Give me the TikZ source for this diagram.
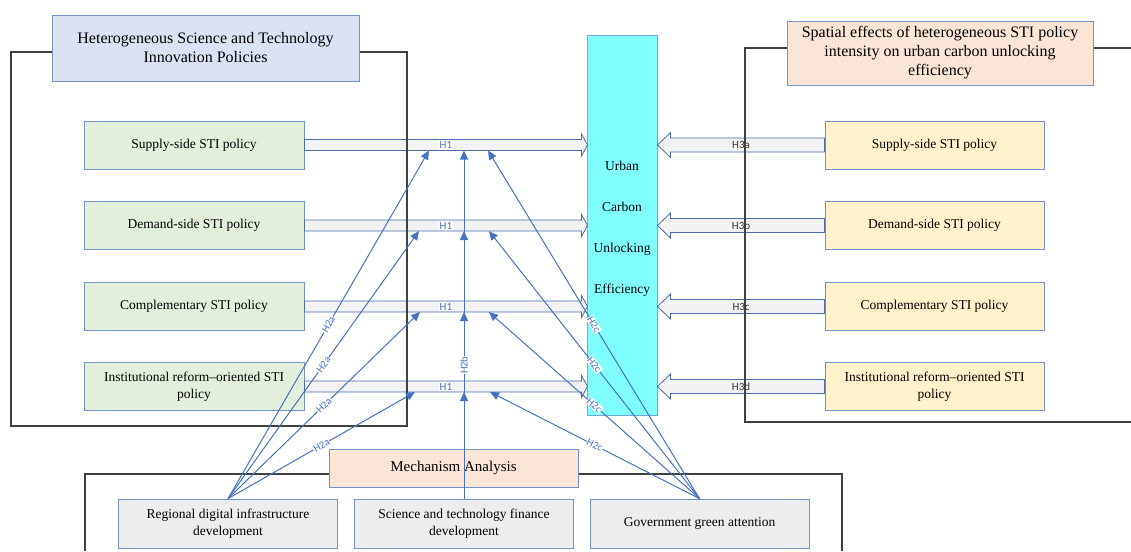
\documentclass[tikz,border=0pt]{standalone}
\usepackage{fontspec}
\setmainfont{Liberation Serif}
\newfontfamily\labfont{Carlito}
\usetikzlibrary{calc,arrows.meta}
\definecolor{framec}{HTML}{404040}
\definecolor{boxb}{HTML}{7393C8}
\definecolor{ltblue}{HTML}{DAE3F3}
\definecolor{ltgreen}{HTML}{E2EFDA}
\definecolor{ltpeach}{HTML}{FBE5D6}
\definecolor{ltyellow}{HTML}{FFF2CC}
\definecolor{ltgray}{HTML}{EDEDED}
\definecolor{cyanf}{HTML}{80FFFF}
\definecolor{cyanb}{HTML}{6FA8DC}
\definecolor{arrowb}{HTML}{4A6CA8}
\definecolor{arrowf}{HTML}{F2F2F2}
\definecolor{hblue}{HTML}{4472C4}
\definecolor{labdark}{HTML}{333333}
\newcommand\GArrow[4]{%
  \draw[barrow] ($(#1)+(0,-5.5)$) -- ($(#2)+(-6,-5.5)$) -- ($(#2)+(-6,-11)$) -- (#2)
    -- ($(#2)+(-6,11)$) -- ($(#2)+(-6,5.5)$) -- ($(#1)+(0,5.5)$) -- cycle;
  \node[hlab] (#4) at ($(#1)!0.5!(#2)$) {#3};}
\newcommand\YArrow[4]{%
  \draw[barrow] ($(#1)+(0,-7)$) -- ($(#2)+(13,-7)$) -- ($(#2)+(13,-12.5)$) -- (#2)
    -- ($(#2)+(13,12.5)$) -- ($(#2)+(13,7)$) -- ($(#1)+(0,7)$) -- cycle;
  \node[h3lab] (#4) at ($(#1)!0.5!(#2)$) {#3};}
\begin{document}
\begin{tikzpicture}[x=1pt,y=-1pt,
  box/.style={draw=boxb, line width=0.8pt, inner sep=0pt, align=center,
    font=\fontsize{13.5}{17}\selectfont},
  gbox/.style={box, fill=ltgreen, minimum width=220pt, minimum height=48pt},
  ybox/.style={box, fill=ltyellow, minimum width=219pt, minimum height=48pt},
  bbox/.style={box, fill=ltgray, minimum width=219pt, minimum height=49pt},
  frameline/.style={draw=framec, line width=1.2pt},
  barrow/.style={draw=arrowb, fill=arrowf, line width=0.8pt, line join=miter},
  hlab/.style={fill=white, inner sep=1pt, text=hblue, font=\labfont\fontsize{11}{12}\selectfont},
  h3lab/.style={inner sep=1pt, text=labdark, font=\labfont\fontsize{11}{12}\selectfont},
  hline/.style={draw=hblue, line width=1pt, -{Triangle[length=9pt,width=8pt]}},
  h2lab/.style={fill=white, inner sep=0.6pt, text=hblue, sloped, pos=0.5,
    font=\labfont\fontsize{10.5}{11}\selectfont},
  ctext/.style={anchor=base, inner sep=0pt, font=\fontsize{13.5}{16}\selectfont}
]
\useasboundingbox (0,0) rectangle (1131,551);

% central box
\node[draw=cyanb, fill=cyanf, line width=1pt, minimum width=70pt, minimum height=379pt, inner sep=0pt] (U) at (622,225.5) {};
\node[ctext] (u1) at (622,170) {Urban};
\node[ctext] (u2) at (622,211) {Carbon};
\node[ctext] (u3) at (622,252) {Unlocking};
\node[ctext] (u4) at (622,293) {Efficiency};

% left policy boxes
\node[gbox] (g1) at (194,145) {Supply-side STI policy};
\node[gbox] (g2) at (194,225.5) {Demand-side STI policy};
\node[gbox] (g3) at (194,306.5) {Complementary STI policy};
\node[gbox] (g4) at (194,386.5) {Institutional reform--oriented STI\\policy};

% right policy boxes
\node[ybox] (y1) at (934.5,145) {Supply-side STI policy};
\node[ybox] (y2) at (934.5,225.5) {Demand-side STI policy};
\node[ybox] (y3) at (934.5,306.5) {Complementary STI policy};
\node[ybox] (y4) at (934.5,386.5) {Institutional reform--oriented STI\\policy};

% block arrows
\foreach \i in {1,2,3,4}{
  \path ($(U.west|-g\i.east)+(1,0)$) coordinate (t\i);
  \path (U.east|-y\i.west) coordinate (s\i);
}
\GArrow{g1.east}{t1}{H1}{h1a}
\GArrow{g2.east}{t2}{H1}{h1b}
\GArrow{g3.east}{t3}{H1}{h1c}
\GArrow{g4.east}{t4}{H1}{h1d}
\YArrow{y1.west}{s1}{H3a}{h3a}
\YArrow{y2.west}{s2}{H3b}{h3b}
\YArrow{y3.west}{s3}{H3c}{h3c}
\YArrow{y4.west}{s4}{H3d}{h3d}

% frames
\draw[frameline] (52,52) -- (11,52) -- (11,426) -- (407,426) -- (407,52) -- (359,52);
\draw[frameline] (787,48) -- (745,48) -- (745,422) -- (1131,422);
\draw[frameline] (1093,48) -- (1131,48);
\draw[frameline] (329,474) -- (85,474) -- (85,551);
\draw[frameline] (578,474) -- (842,474) -- (842,551);

% titles
\node[box, fill=ltblue, minimum width=307pt, minimum height=66pt, font=\fontsize{16}{19}\selectfont] (T1) at (205.5,48) {Heterogeneous Science and Technology\\Innovation Policies};
\node[box, fill=ltpeach, minimum width=306pt, minimum height=64pt, font=\fontsize{16}{19}\selectfont] (T2) at (940,53) {Spatial effects of heterogeneous STI policy\\intensity on urban carbon unlocking\\efficiency};
\node[box, fill=ltpeach, minimum width=249pt, minimum height=38pt, font=\fontsize{15}{18}\selectfont] (T3) at (453.5,468) {Mechanism Analysis};

% mechanism boxes
\node[bbox] (b1) at (228,523.5) {Regional digital infrastructure\\development};
\node[bbox] (b2) at (464,523.5) {Science and technology finance\\development};
\node[bbox] (b3) at (699.5,523.5) {Government green attention};

% mechanism connector end points
\coordinate (L1) at (429,150.5);
\coordinate (L2) at (419,231);
\coordinate (L3) at (420,312);
\coordinate (L4) at (415,392);
\coordinate (M1) at (464,150.5);
\coordinate (M2) at (464,231);
\coordinate (M3) at (464,312);
\coordinate (M4) at (464,392);
\coordinate (R1) at (488,150.5);
\coordinate (R2) at (489,231);
\coordinate (R3) at (489,312);
\coordinate (R4) at (490,392);

\draw[hline] (b1.north) -- node[h2lab] (la1) {H2a} (L1);
\draw[hline] (b1.north) -- node[h2lab] (la2) {H2a} (L2);
\draw[hline] (b1.north) -- node[h2lab] (la3) {H2a} (L3);
\draw[hline] (b1.north) -- node[h2lab] (la4) {H2a} (L4);
\draw[hline] (b2.north) -- (M1);
\draw[hline] (b2.north) -- (M2);
\draw[hline] (b2.north) -- node[h2lab, pos=0.715] (lb) {H2b} (M3);
\draw[hline] (b2.north) -- (M4);
\draw[hline] (b3.north) -- node[h2lab] (lc1) {H2c} (R1);
\draw[hline] (b3.north) -- node[h2lab] (lc2) {H2c} (R2);
\draw[hline] (b3.north) -- node[h2lab] (lc3) {H2c} (R3);
\draw[hline] (b3.north) -- node[h2lab] (lc4) {H2c} (R4);
\end{tikzpicture}
\end{document}
